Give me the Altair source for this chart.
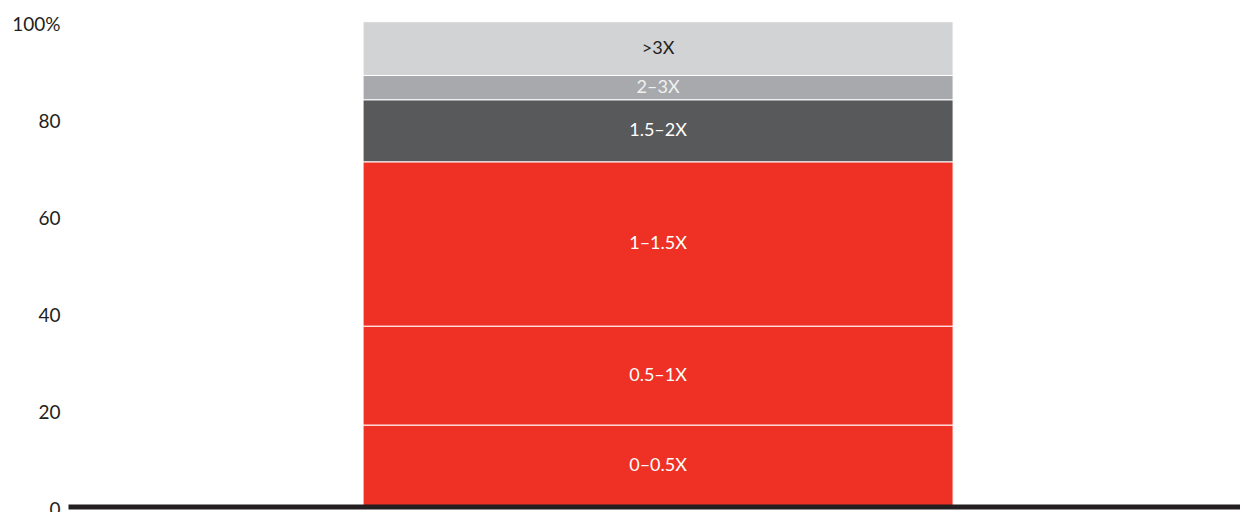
import altair as alt
import pandas as pd

# Data
segments = ["0–0.5X", "0.5–1X", "1–1.5X", "1.5–2X", "2–3X", ">3X"]
shares = [16.8, 20.4, 33.9, 12.8, 5.0, 11.1]
fill_colors = ["#ee3124", "#ee3124", "#ee3124", "#58595b", "#a7a9ac", "#d1d3d4"]
text_colors = ["#ffffff", "#ffffff", "#ffffff", "#ffffff", "#f1f1f2", "#231f20"]
y_ticks = [0, 20, 40, 60, 80, 100]

df = pd.DataFrame({
    "grp": ["all"] * len(segments),
    "segment": segments,
    "value": shares,
    "order": list(range(len(segments))),
    "tcolor": text_colors,
})

FONT = "Lato"

base = alt.Chart(df).transform_stack(
    stack="value", groupby=["grp"], as_=["y0", "y1"],
    sort=[alt.SortField("order", order="ascending")]
).transform_calculate(mid="(datum.y0 + datum.y1) / 2")

x_scale = alt.Scale(paddingInner=0, paddingOuter=0.4932, align=0.507)

x_enc = alt.X(
    "grp:N",
    scale=x_scale,
    axis=alt.Axis(labels=False, ticks=False, title=None, domain=True,
                  domainColor="#231f20", domainWidth=5, zindex=1, grid=False),
)

y_scale = alt.Scale(domain=[0, 100], nice=False)

y_axis = alt.Axis(values=y_ticks, title=None, domain=False, ticks=False,
                  grid=False, labelPadding=8, labelFontSize=19,
                  labelFont=FONT, labelColor="#231f20", labelOffset=3,
                  labelExpr="datum.value == 100 ? '100%' : datum.label")

bars = base.mark_bar(stroke="white", strokeWidth=1).encode(
    x=x_enc,
    y=alt.Y("y0:Q", scale=y_scale, axis=y_axis),
    y2="y1:Q",
    color=alt.Color("segment:N", scale=alt.Scale(domain=segments, range=fill_colors),
                    legend=None),
)

labels = base.mark_text(font=FONT, fontSize=18, baseline="middle", align="center").encode(
    x=x_enc,
    y=alt.Y("mid:Q", scale=y_scale, axis=y_axis),
    text="segment:N",
    color=alt.Color("tcolor:N", scale=None),
)

chart = alt.layer(bars, labels).properties(
    width=1172,
    height=484.8,
    background="white",
    autosize=alt.AutoSizeParams(type="none"),
    padding={"left": 60, "top": 13.7, "right": 0, "bottom": 10},
).configure_view(strokeWidth=0, stroke=None).configure_axis(grid=False)

chart.save("out.html", embed_options={"renderer": "svg", "actions": False})
